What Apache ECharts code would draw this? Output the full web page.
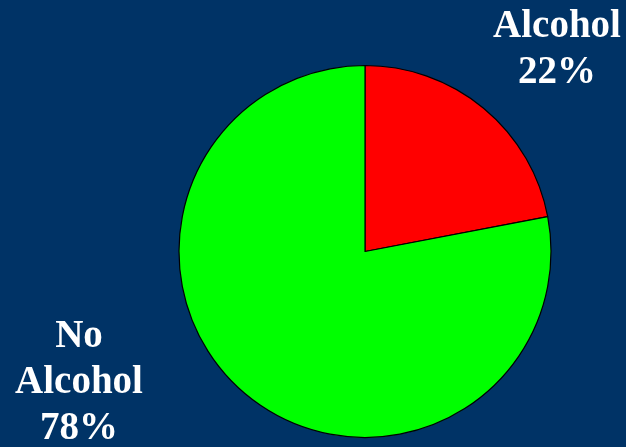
<!DOCTYPE html>
<html>
<head>
<meta charset="utf-8">
<script src="https://cdn.jsdelivr.net/npm/echarts@6/dist/echarts.min.js"></script>
<style>
  html, body { margin: 0; padding: 0; background: #003366; }
  #chart { width: 626px; height: 447px; }
</style>
</head>
<body>
<div id="chart"></div>
<script>
// Share of cases with and without alcohol involvement
const categories = ['Alcohol', 'No Alcohol'];
const shares = [22, 78];
const sliceColors = ['#ff0000', '#00ff00'];

// Label anchor points (block centres) for each slice
const labelAnchors = [[557, 50], [79, 383]];

const chart = echarts.init(document.getElementById('chart'));

chart.setOption({
  backgroundColor: '#003366',
  animation: false,
  series: [{
    type: 'pie',
    center: [365, 251.5],
    radius: 186,
    startAngle: 90,
    clockwise: true,
    data: categories.map((name, i) => ({
      name: name,
      value: shares[i],
      itemStyle: { color: sliceColors[i] }
    })),
    itemStyle: { borderColor: '#000000', borderWidth: 1.2 },
    label: {
      show: true,
      position: 'inside',
      overflow: 'none',
      formatter: p => p.name.replace(' ', '\n') + '\n' + p.percent + '%',
      color: '#ffffff',
      fontFamily: '"Liberation Serif", "Times New Roman", serif',
      fontWeight: 'bold',
      fontSize: 39,
      lineHeight: 46,
      align: 'center'
    },
    labelLine: { show: false },
    labelLayout: params => ({
      x: labelAnchors[params.dataIndex][0],
      y: labelAnchors[params.dataIndex][1],
      align: 'center',
      verticalAlign: 'middle'
    }),
    emphasis: { disabled: true }
  }]
});
</script>
</body>
</html>
